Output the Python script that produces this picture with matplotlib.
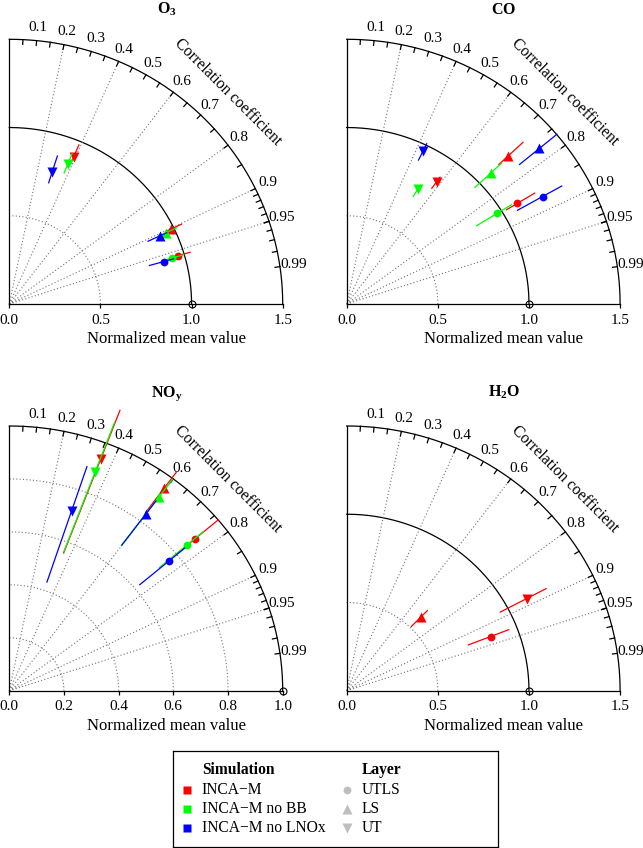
import numpy as np
import matplotlib
matplotlib.use('Agg')
import matplotlib.pyplot as plt

plt.rcParams['font.family'] = ['Liberation Serif', 'DejaVu Serif']
plt.rcParams['mathtext.fontset'] = 'custom'
plt.rcParams['mathtext.rm'] = 'Liberation Serif'
plt.rcParams['mathtext.bf'] = 'Liberation Serif:bold'

SIMS = ['INCA\u2212M', 'INCA\u2212M no BB', 'INCA\u2212M no LNOx']
SIM_COLORS = ['#FF0000', '#00FF00', '#0000FF']
LAYERS = ['UTLS', 'LS', 'UT']
LAYER_MARKERS = ['o', '^', 'v']

# rows = simulation (red, green, blue), cols = layer (UTLS, LS, UT)
# sd = normalised std dev, corr = correlation, lo/hi = extent of range line
o3_sd = [[0.964, 0.982, 0.907], [0.932, 0.951, 0.855], [0.882, 0.913, 0.782]]
o3_corr = [[0.959, 0.902, 0.390], [0.960, 0.905, 0.375], [0.962, 0.906, 0.300]]
o3_lo = [[0.928, 0.955, 0.869], [0.898, 0.901, 0.802], [0.799, 0.840, 0.720]]
o3_hi = [[1.034, 1.047, 0.979], [0.996, 1.015, 0.918], [0.937, 0.954, 0.879]]

co_sd = [[1.096, 1.221, 0.851], [0.973, 1.087, 0.758], [1.235, 1.377, 0.965]]
co_corr = [[0.854, 0.726, 0.580], [0.849, 0.729, 0.514], [0.870, 0.768, 0.435]]
co_lo = [[1.027, 1.150, 0.805], [0.839, 0.966, 0.711], [1.077, 1.235, 0.906]]
co_hi = [[1.208, 1.332, 0.882], [1.065, 1.165, 0.785], [1.356, 1.502, 1.009]]

noy_sd = [[0.888, 0.952, 0.936], [0.851, 0.916, 0.882], [0.764, 0.834, 0.717]]
noy_corr = [[0.764, 0.595, 0.357], [0.763, 0.599, 0.355], [0.766, 0.599, 0.318]]
noy_lo = [[0.800, 0.850, 0.557], [0.720, 0.684, 0.562], [0.623, 0.687, 0.433]]
noy_hi = [[1.000, 1.026, 1.134], [0.930, 0.997, 1.085], [0.838, 0.895, 0.893]]

h2o_sd = [[0.847, 0.581, 1.117]]
h2o_corr = [[0.932, 0.698, 0.884]]
h2o_lo = [[0.716, 0.508, 0.953]]
h2o_hi = [[0.954, 0.634, 1.237]]

GRID_CORR = [0.2, 0.4, 0.6, 0.8, 0.9, 0.95]
LABEL_CORR = [0.1, 0.2, 0.3, 0.4, 0.5, 0.6, 0.7, 0.8, 0.9, 0.95, 0.99]
TICK_CORR = list(np.arange(0.05, 0.951, 0.05)) + list(np.arange(0.91, 0.995, 0.01))


def polar(sd, c):
    return sd * c, sd * np.sqrt(1 - c ** 2)


def draw_panel(ax, title, title_y, rmax, rticks, sd, corr, lo, hi):
    ax.set_xlim(0, rmax)
    ax.set_ylim(0, rmax)
    for s in ['top', 'right']:
        ax.spines[s].set_visible(False)
    ax.spines['left'].set_linewidth(0.9)
    ax.spines['bottom'].set_linewidth(0.9)
    ax.set_yticks([])
    ax.set_xticks(rticks)
    ax.set_xticklabels(['%.1f' % t for t in rticks], fontsize=11)
    ax.tick_params(axis='x', direction='out', length=3, width=0.9, pad=4)

    th = np.linspace(0, np.pi / 2, 400)
    for r in rticks[1:-1]:
        if np.isclose(r, 1.0):
            ax.plot(r * np.cos(th), r * np.sin(th), color='k', lw=0.9, clip_on=False)
        else:
            ax.plot(r * np.cos(th), r * np.sin(th), color='0.45', lw=0.8,
                    ls=(0, (1, 2)), clip_on=False)
    ax.plot(rmax * np.cos(th), rmax * np.sin(th), color='k', lw=0.9, clip_on=False)

    for c in GRID_CORR:
        x, y = polar(rmax, c)
        ax.plot([0, x], [0, y], color='0.45', lw=0.8, ls=(0, (1, 2)), clip_on=False)
    for c in TICK_CORR:
        x, y = polar(rmax, c)
        ax.plot([x * 0.982, x], [y * 0.982, y], color='k', lw=0.9, clip_on=False)
    for c in LABEL_CORR:
        x, y = polar(rmax * 1.05, c)
        ax.text(x, y, str(c), ha='center', va='center', fontsize=11)
    x, y = polar(rmax * 1.13, np.cos(np.pi / 4))
    ax.text(x, y, 'Correlation coefficient', rotation=-45, ha='center', va='center',
            fontsize=11.4, rotation_mode='anchor')

    ax.plot([1.0], [0.0], marker='o', ms=5, mfc='none', mec='k', mew=0.8, clip_on=False)

    for i in range(len(sd)):
        for j in range(3):
            x0, y0 = polar(lo[i][j], corr[i][j])
            x1, y1 = polar(hi[i][j], corr[i][j])
            ax.plot([x0, x1], [y0, y1], color=SIM_COLORS[i], lw=0.9, clip_on=False)
            mx, my = polar(sd[i][j], corr[i][j])
            ms = 5.6 if LAYER_MARKERS[j] == 'o' else 7.2
            ax.plot([mx], [my], marker=LAYER_MARKERS[j], ms=ms, color=SIM_COLORS[i],
                    mec='none', clip_on=False)

    ax.text(0.575, title_y, title, transform=ax.transAxes, ha='center', va='baseline',
            fontsize=11.5)
    ax.text(0.575, -0.133, 'Normalized mean value', transform=ax.transAxes,
            ha='center', va='center', fontsize=12)


fig = plt.figure(figsize=(6.43, 8.48), dpi=100)


def panel_rect(ox, oy):
    return [ox / 643, (848 - oy) / 848, 273.4 / 643, 264.7 / 848]


ax1 = fig.add_axes(panel_rect(9.3, 304))
draw_panel(ax1, r'$\mathbf{O}_\mathbf{3}$', 1.097, 1.5, [0.0, 0.5, 1.0, 1.5],
           o3_sd, o3_corr, o3_lo, o3_hi)
ax2 = fig.add_axes(panel_rect(346.7, 304))
draw_panel(ax2, r'$\mathbf{CO}$', 1.097, 1.5, [0.0, 0.5, 1.0, 1.5],
           co_sd, co_corr, co_lo, co_hi)
ax3 = fig.add_axes(panel_rect(9.3, 690.7))
draw_panel(ax3, r'$\mathbf{NO}_\mathbf{y}$', 1.112, 1.0, [0.0, 0.2, 0.4, 0.6, 0.8, 1.0],
           noy_sd, noy_corr, noy_lo, noy_hi)
ax4 = fig.add_axes(panel_rect(346.7, 690.7))
draw_panel(ax4, r'$\mathbf{H}_\mathbf{2}\mathbf{O}$', 1.112, 1.5, [0.0, 0.5, 1.0, 1.5],
           h2o_sd, h2o_corr, h2o_lo, h2o_hi)

# legend box
L, R, T, B = 172.7, 498.3, 750.7, 846.5
lax = fig.add_axes([L / 643, (848 - B) / 848, (R - L) / 643, (B - T) / 848])
lax.set_xlim(L, R)
lax.set_ylim(B, T)
lax.set_xticks([])
lax.set_yticks([])
for s in lax.spines.values():
    s.set_linewidth(0.9)

lax.text(201.7, 770, 'Simulation', fontweight='bold', fontsize=11.2, va='center')
lax.text(361.7, 770, 'Layer', fontweight='bold', fontsize=11.2, va='center')
rows = [790, 809.3, 828.3]
for k in range(3):
    lax.plot([186.7], [rows[k]], marker='s', ms=5.5, color=SIM_COLORS[k], mec='none')
    lax.text(201.7, rows[k], SIMS[k], fontsize=11.2, va='center')
    lax.plot([346.7], [rows[k]], marker=LAYER_MARKERS[k], ms=5.6 if k == 0 else 7.2,
             color='#BEBEBE', mec='none')
    lax.text(361.7, rows[k], LAYERS[k], fontsize=11.2, va='center')

fig.savefig('out.png', dpi=100)
